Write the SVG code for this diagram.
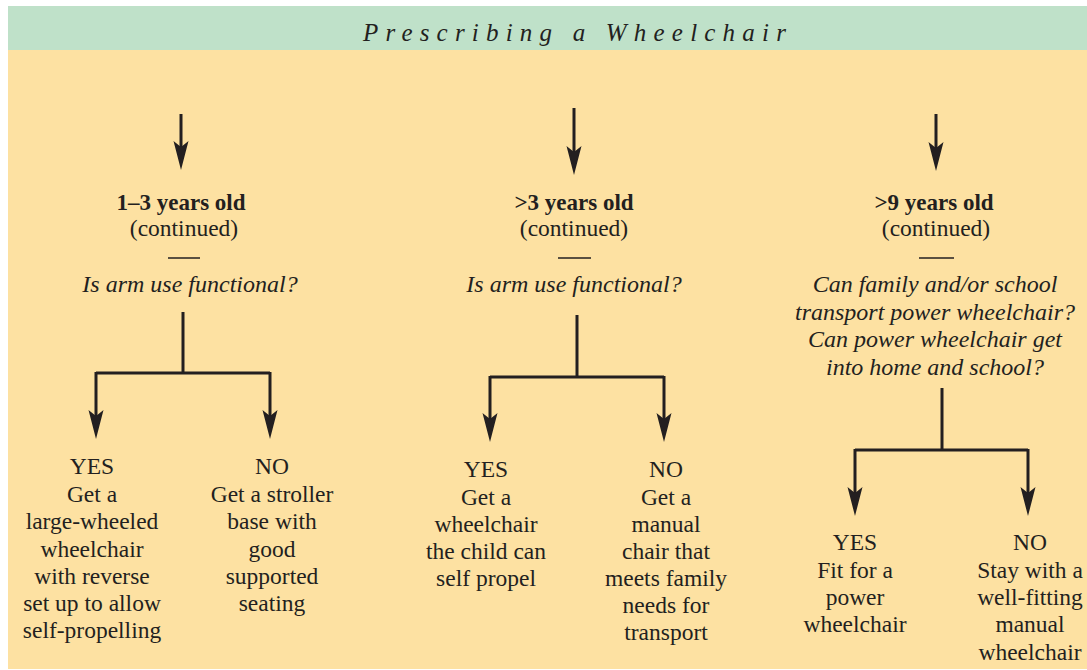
<svg xmlns="http://www.w3.org/2000/svg" width="1087" height="670" viewBox="0 0 1087 670">
<defs>
<marker id="ah" markerUnits="userSpaceOnUse" markerWidth="30" markerHeight="16" viewBox="0 -8 30 16" refX="19" refY="0" orient="auto">
<path d="M0,-7.5 L29,0 L0,7.5 L6,0 Z" fill="#231f20"/>
</marker>
<style>
.t{font-family:"Liberation Serif","Times New Roman",serif;fill:#231f20;text-anchor:middle}
.h{font-size:23px;font-weight:bold}
.r{font-size:23.5px}
.i{font-size:24px;font-style:italic}
.ln{stroke:#231f20;stroke-width:3;fill:none}
.arr{marker-end:url(#ah)}
</style>
</defs>
<rect x="0" y="0" width="1087" height="670" fill="#ffffff"/>
<rect x="8" y="6" width="1079" height="44" fill="#bfe1c9"/>
<rect x="8" y="50" width="1079" height="619" fill="#fde1a2"/>
<text class="t" x="578" y="41" style="font-size:25px;font-style:italic;letter-spacing:7.2px">Prescribing a Wheelchair</text>

<g id="connectors">
<line class="ln arr" x1="181" y1="114" x2="181" y2="160"/>
<line class="ln arr" x1="574" y1="108" x2="574" y2="165"/>
<line class="ln arr" x1="936" y1="114" x2="936" y2="161"/>
<line class="ln" x1="183" y1="312" x2="183" y2="373"/>
<path class="ln" d="M96,373 H270"/>
<line class="ln arr" x1="96" y1="372" x2="96" y2="429"/>
<line class="ln arr" x1="270" y1="372" x2="270" y2="429"/>
<line class="ln" x1="577" y1="315" x2="577" y2="377"/>
<path class="ln" d="M490,377 H664"/>
<line class="ln arr" x1="490" y1="376" x2="490" y2="432"/>
<line class="ln arr" x1="664" y1="376" x2="664" y2="432"/>
<line class="ln" x1="942" y1="388" x2="942" y2="450"/>
<path class="ln" d="M855,450 H1028"/>
<line class="ln arr" x1="855" y1="449" x2="855" y2="506"/>
<line class="ln arr" x1="1028" y1="449" x2="1028" y2="506"/>
</g>

<g id="q1">
<text class="t h" x="181" y="210">1–3 years old</text>
<text class="t r" x="184" y="236">(continued)</text>
<line x1="168" y1="258" x2="200" y2="258" stroke="#231f20" stroke-width="1.5"/>
<text class="t i" x="190" y="292">Is arm use functional?</text>
</g>
<g id="q1-yes">
<text class="t r" x="92"><tspan x="92" y="474">YES</tspan><tspan x="92" y="501.5">Get a</tspan><tspan x="92" y="529">large-wheeled</tspan><tspan x="92" y="556.5">wheelchair</tspan><tspan x="92" y="584">with reverse</tspan><tspan x="92" y="611">set up to allow</tspan><tspan x="92" y="638">self-propelling</tspan></text>
</g>
<g id="q1-no">
<text class="t r" x="272"><tspan x="272" y="474">NO</tspan><tspan x="272" y="501.5">Get a stroller</tspan><tspan x="272" y="529">base with</tspan><tspan x="272" y="556.5">good</tspan><tspan x="272" y="584">supported</tspan><tspan x="272" y="611">seating</tspan></text>
</g>

<g id="q2">
<text class="t h" x="574" y="210">&gt;3 years old</text>
<text class="t r" x="574" y="236">(continued)</text>
<line x1="558" y1="258" x2="591" y2="258" stroke="#231f20" stroke-width="1.5"/>
<text class="t i" x="574" y="292">Is arm use functional?</text>
</g>
<g id="q2-yes">
<text class="t r" x="486"><tspan x="486" y="477">YES</tspan><tspan x="486" y="504.5">Get a</tspan><tspan x="486" y="532">wheelchair</tspan><tspan x="486" y="559">the child can</tspan><tspan x="486" y="586">self propel</tspan></text>
</g>
<g id="q2-no">
<text class="t r" x="666"><tspan x="666" y="477">NO</tspan><tspan x="666" y="504.5">Get a</tspan><tspan x="666" y="532">manual</tspan><tspan x="666" y="559">chair that</tspan><tspan x="666" y="586">meets family</tspan><tspan x="666" y="613">needs for</tspan><tspan x="666" y="640">transport</tspan></text>
</g>

<g id="q3">
<text class="t h" x="934" y="210">&gt;9 years old</text>
<text class="t r" x="936" y="236">(continued)</text>
<line x1="919" y1="258" x2="954" y2="258" stroke="#231f20" stroke-width="1.5"/>
<text class="t i" x="935"><tspan x="935" y="292">Can family and/or school</tspan><tspan x="935" y="319.5">transport power wheelchair?</tspan><tspan x="935" y="347">Can power wheelchair get</tspan><tspan x="935" y="374.5">into home and school?</tspan></text>
</g>
<g id="q3-yes">
<text class="t r" x="855"><tspan x="855" y="550">YES</tspan><tspan x="855" y="577.5">Fit for a</tspan><tspan x="855" y="605">power</tspan><tspan x="855" y="632">wheelchair</tspan></text>
</g>
<g id="q3-no">
<text class="t r" x="1030"><tspan x="1030" y="550">NO</tspan><tspan x="1030" y="577.5">Stay with a</tspan><tspan x="1030" y="605">well-fitting</tspan><tspan x="1030" y="632">manual</tspan><tspan x="1030" y="659.5">wheelchair</tspan></text>
</g>
</svg>
